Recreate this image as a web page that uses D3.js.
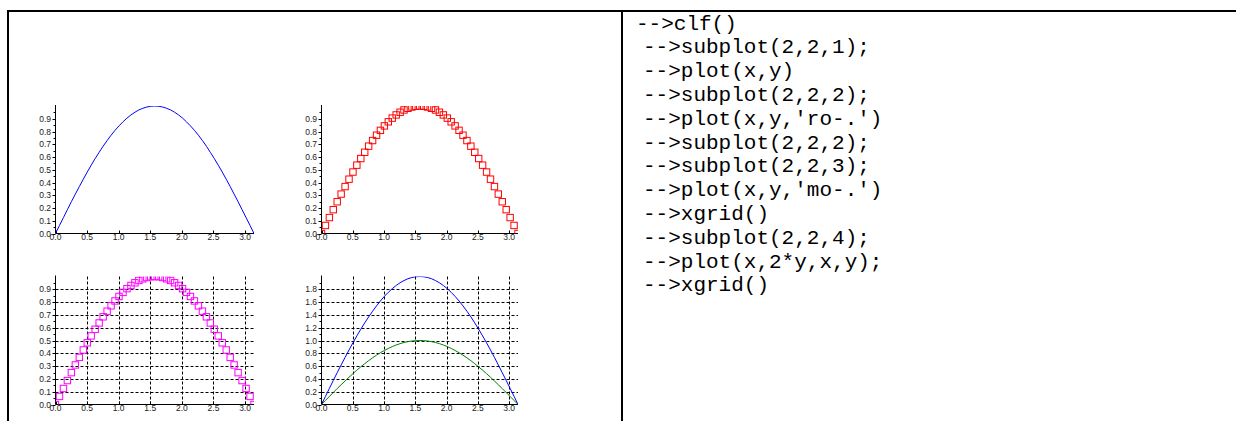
<!DOCTYPE html>
<html><head><meta charset="utf-8">
<script src="https://cdn.jsdelivr.net/npm/d3@7"></script>
<style>html,body{margin:0;padding:0;background:#fff;}svg{display:block;}</style>
</head><body>
<svg id="c" width="1236" height="421"></svg>
<script>
// ---- data ----
const xValues = [0, 0.063, 0.126, 0.188, 0.251, 0.314, 0.377, 0.440, 0.503, 0.565, 0.628, 0.691, 0.754, 0.817, 0.880, 0.942, 1.005, 1.068, 1.131, 1.194, 1.257, 1.319, 1.382, 1.445, 1.508, 1.571, 1.634, 1.696, 1.759, 1.822, 1.885, 1.948, 2.011, 2.073, 2.136, 2.199, 2.262, 2.325, 2.388, 2.450, 2.513, 2.576, 2.639, 2.702, 2.765, 2.827, 2.890, 2.953, 3.016, 3.079, 3.142];
const ySin = [0, 0.063, 0.125, 0.187, 0.249, 0.309, 0.368, 0.426, 0.482, 0.536, 0.588, 0.637, 0.685, 0.729, 0.771, 0.809, 0.844, 0.876, 0.905, 0.930, 0.951, 0.969, 0.982, 0.992, 0.998, 1.000, 0.998, 0.992, 0.982, 0.969, 0.951, 0.930, 0.905, 0.876, 0.844, 0.809, 0.771, 0.729, 0.685, 0.637, 0.588, 0.536, 0.482, 0.426, 0.368, 0.309, 0.249, 0.187, 0.125, 0.063, 0];
const yDouble = [0, 0.126, 0.251, 0.375, 0.497, 0.618, 0.736, 0.852, 0.964, 1.072, 1.176, 1.275, 1.369, 1.458, 1.541, 1.618, 1.689, 1.753, 1.810, 1.860, 1.902, 1.937, 1.965, 1.984, 1.996, 2.000, 1.996, 1.984, 1.965, 1.937, 1.902, 1.860, 1.810, 1.753, 1.689, 1.618, 1.541, 1.458, 1.369, 1.275, 1.176, 1.072, 0.964, 0.852, 0.736, 0.618, 0.497, 0.375, 0.251, 0.126, 0];
const xTicks = [0, 0.5, 1.0, 1.5, 2.0, 2.5, 3.0];
const yTicksUnit = [0, 0.1, 0.2, 0.3, 0.4, 0.5, 0.6, 0.7, 0.8, 0.9];
const yTicksDouble = [0, 0.2, 0.4, 0.6, 0.8, 1.0, 1.2, 1.4, 1.6, 1.8];
const codeLines = ["-->clf()", "-->subplot(2,2,1);", "-->plot(x,y)", "-->subplot(2,2,2);", "-->plot(x,y,'ro-.')", "-->subplot(2,2,2);", "-->subplot(2,2,3);", "-->plot(x,y,'mo-.')", "-->xgrid()", "-->subplot(2,2,4);", "-->plot(x,2*y,x,y);", "-->xgrid()"];

const svg = d3.select("#c");

// table borders
svg.append("line").attr("x1",7).attr("x2",1236).attr("y1",11).attr("y2",11).attr("stroke","#000").attr("stroke-width",2);
svg.append("line").attr("x1",8).attr("x2",8).attr("y1",10).attr("y2",421).attr("stroke","#000").attr("stroke-width",2);
svg.append("line").attr("x1",622).attr("x2",622).attr("y1",10).attr("y2",421).attr("stroke","#000").attr("stroke-width",2);

const panels = [
  {x0:55.5, x1:254, yb:233.5, yt:106, ymax:1, yt_:yTicksUnit, minor:0.05, grid:false,
   series:[{y:ySin, color:"#0000ff", type:"line"}]},
  {x0:321.5, x1:518, yb:233.5, yt:106, ymax:1, yt_:yTicksUnit, minor:0.05, grid:false,
   series:[{y:ySin, color:"#ff0000", type:"marker"}]},
  {x0:55.5, x1:254, yb:404.5, yt:276.5, ymax:1, yt_:yTicksUnit, minor:0.05, grid:true,
   series:[{y:ySin, color:"#ff00ff", type:"marker"}]},
  {x0:321.5, x1:518, yb:404.5, yt:276.5, ymax:2, yt_:yTicksDouble, minor:0.1, grid:true,
   series:[{y:yDouble, color:"#0000ff", type:"line"},{y:ySin, color:"#008000", type:"line"}]}
];

panels.forEach((p,i)=>{
  const x = d3.scaleLinear().domain([0, Math.PI]).range([p.x0, p.x1]);
  const y = d3.scaleLinear().domain([0, p.ymax]).range([p.yb, p.yt]);
  const g = svg.append("g");
  const clipId = "clip"+i;
  svg.append("clipPath").attr("id",clipId).append("rect")
    .attr("x",p.x0).attr("y",p.yt).attr("width",p.x1-p.x0).attr("height",p.yb-p.yt);

  if (p.grid) {
    const gg = g.append("g").attr("stroke","#000").attr("stroke-width",1).attr("stroke-dasharray","3,2").attr("fill","none");
    xTicks.filter(t=>t>0).forEach(t=>{
      gg.append("line").attr("x1",Math.round(x(t))+0.5).attr("x2",Math.round(x(t))+0.5).attr("y1",p.yb).attr("y2",p.yt);
    });
    p.yt_.filter(t=>t>0).forEach(t=>{
      gg.append("line").attr("y1",Math.round(y(t))+0.5).attr("y2",Math.round(y(t))+0.5).attr("x1",p.x0).attr("x2",p.x1);
    });
  }

  // axes
  const ax = g.append("g").attr("stroke","#000").attr("stroke-width",1);
  ax.append("line").attr("x1",p.x0).attr("x2",p.x0).attr("y1",p.yb).attr("y2",p.yt-1);
  ax.append("line").attr("x1",p.x0).attr("x2",p.x1).attr("y1",p.yb).attr("y2",p.yb);
  p.yt_.forEach(t=>{
    const yy = Math.round(y(t))+0.5;
    ax.append("line").attr("x1",p.x0-3).attr("x2",p.x0).attr("y1",yy).attr("y2",yy);
    const ym = Math.round(y(t+p.minor))+0.5;
    ax.append("line").attr("x1",p.x0-2).attr("x2",p.x0).attr("y1",ym).attr("y2",ym);
  });
  xTicks.forEach(t=>{
    const xx = Math.round(x(t))+0.5;
    ax.append("line").attr("x1",xx).attr("x2",xx).attr("y1",p.yb).attr("y2",p.yb-3);
  });
  const lab = g.append("g").attr("font-family","Liberation Sans, Arial, sans-serif").attr("font-size","8.5px").attr("fill","#222");
  p.yt_.forEach(t=>{
    lab.append("text").attr("x",p.x0-4.5).attr("y",y(t)+3).attr("text-anchor","end").text(d3.format(".1f")(t));
  });
  xTicks.forEach(t=>{
    lab.append("text").attr("x",x(t)).attr("y",p.yb+6).attr("text-anchor","middle").text(d3.format(".1f")(t));
  });

  p.series.forEach(s=>{
    const pts = xValues.map((v,k)=>[x(v), y(s.y[k])]);
    const sg = g.append("g").attr("clip-path","url(#"+clipId+")");
    if (s.type==="line") {
      sg.append("path").attr("d", d3.line().curve(d3.curveMonotoneX)(pts)).attr("fill","none").attr("stroke",s.color).attr("stroke-width",1);
    } else {
      sg.selectAll("rect").data(pts).join("rect")
        .attr("x",d=>d[0]-3.2).attr("y",d=>d[1]-3.2).attr("width",6.4).attr("height",6.4)
        .attr("fill","none").attr("stroke",s.color).attr("stroke-width",1);
    }
  });
});

// code text
const tg = svg.append("g").attr("font-family","Liberation Mono, Courier New, monospace").attr("font-size","21px").attr("fill","#000");
codeLines.forEach((l,i)=>{
  tg.append("text").attr("x", i===0 ? 636 : 643).attr("y", 29.5 + i*23.8).attr("xml:space","preserve").text(l);
});
</script>
</body></html>
